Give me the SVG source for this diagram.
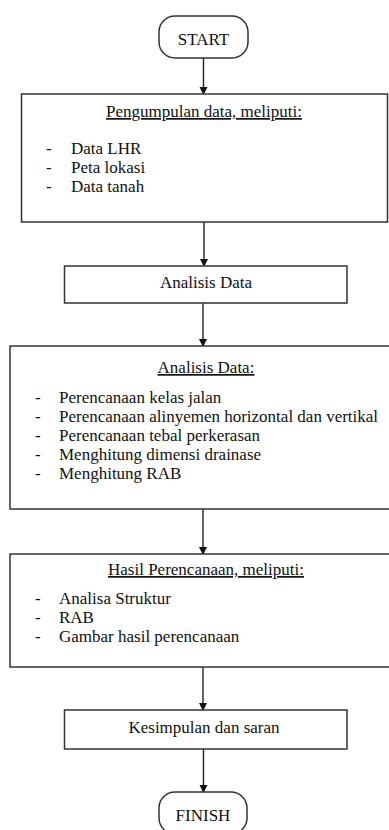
<svg xmlns="http://www.w3.org/2000/svg" width="389" height="830" viewBox="0 0 389 830">
<style>
.box{fill:#fff;stroke:#333;stroke-width:1.5}
.t{font-family:"Liberation Serif","Times New Roman",serif;font-size:17px;fill:#111}
.c{text-anchor:middle}
.u{text-decoration:underline}
.ln{stroke:#222;stroke-width:1.4;fill:none;marker-end:url(#ah)}
</style>
<defs>
<marker id="ah" markerWidth="8" markerHeight="9" refX="7" refY="4.5" orient="auto" markerUnits="userSpaceOnUse">
<path d="M0,0.5 L8,4.5 L0,8.5 Z" fill="#111"/>
</marker>
</defs>
<rect width="389" height="830" fill="#fff"/>
<g id="connectors">
<line class="ln" x1="203.5" y1="58" x2="203.5" y2="94"/>
<line class="ln" x1="204" y1="222" x2="204" y2="266"/>
<line class="ln" x1="203" y1="303" x2="203" y2="346"/>
<line class="ln" x1="203" y1="509" x2="203" y2="554"/>
<line class="ln" x1="203" y1="667" x2="203" y2="710"/>
<line class="ln" x1="203.5" y1="749" x2="203.5" y2="792"/>
</g>
<g id="start">
<rect class="box" x="159" y="16" width="89" height="42" rx="16" ry="16"/>
<text class="t c" x="203.5" y="44.5">START</text>
</g>
<g id="pengumpulan">
<rect class="box" x="21.5" y="94" width="366" height="128"/>
<text class="t c u" x="204" y="117">Pengumpulan data, meliputi:</text>
<text class="t"><tspan x="46" y="154">-</tspan><tspan x="71" y="154">Data LHR</tspan><tspan x="46" y="173">-</tspan><tspan x="71" y="173">Peta lokasi</tspan><tspan x="46" y="192">-</tspan><tspan x="71" y="192">Data tanah</tspan></text>
</g>
<g id="analisis">
<rect class="box" x="64.5" y="266" width="282.5" height="37"/>
<text class="t c" x="206" y="288">Analisis Data</text>
</g>
<g id="analisis-detail">
<rect class="box" x="10" y="346" width="380" height="163"/>
<text class="t c u" x="206" y="373">Analisis Data:</text>
<text class="t"><tspan x="35" y="403">-</tspan><tspan x="59" y="403">Perencanaan kelas jalan</tspan><tspan x="35" y="422">-</tspan><tspan x="59" y="422">Perencanaan alinyemen horizontal dan vertikal</tspan><tspan x="35" y="441">-</tspan><tspan x="59" y="441">Perencanaan tebal perkerasan</tspan><tspan x="35" y="460">-</tspan><tspan x="59" y="460">Menghitung dimensi drainase</tspan><tspan x="35" y="479">-</tspan><tspan x="59" y="479">Menghitung RAB</tspan></text>
</g>
<g id="hasil">
<rect class="box" x="10" y="554" width="380" height="113"/>
<text class="t c u" x="206" y="575">Hasil Perencanaan, meliputi:</text>
<text class="t"><tspan x="35" y="604">-</tspan><tspan x="59" y="604">Analisa Struktur</tspan><tspan x="35" y="623">-</tspan><tspan x="59" y="623">RAB</tspan><tspan x="35" y="642">-</tspan><tspan x="59" y="642">Gambar hasil perencanaan</tspan></text>
</g>
<g id="kesimpulan">
<rect class="box" x="64.5" y="710" width="282.5" height="39"/>
<text class="t c" x="204" y="733">Kesimpulan dan saran</text>
</g>
<g id="finish">
<rect class="box" x="159" y="792" width="88" height="42" rx="16" ry="16"/>
<text class="t c" x="203" y="821">FINISH</text>
</g>
</svg>
